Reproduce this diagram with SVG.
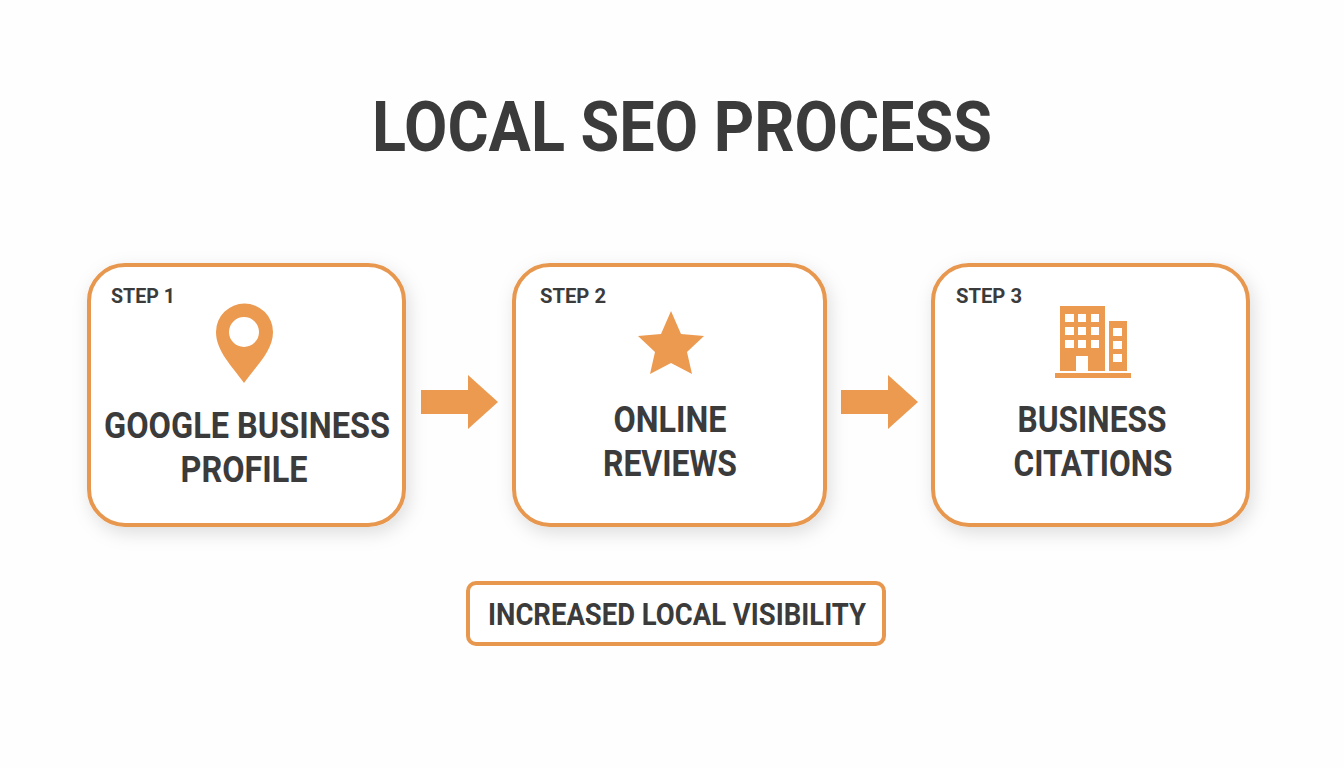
<svg xmlns="http://www.w3.org/2000/svg" width="1344" height="768" viewBox="0 0 1344 768">
<style>
text{font-family:Roboto,"Liberation Sans",sans-serif;font-weight:700;fill:#3b3b3b;text-anchor:middle}
.card{fill:#fff;stroke:#e8974f;stroke-width:4;filter:url(#sh)}
.o{fill:#ec9a50}
.w{fill:#fff}
.step{font-size:21px;text-anchor:start}
.lab{font-size:37px}
</style>
<defs><filter id="sh" x="-15%" y="-15%" width="130%" height="130%"><feDropShadow dx="3" dy="6" stdDeviation="9" flood-color="#000" flood-opacity=".13"/></filter></defs>
<rect width="1344" height="768" fill="#fefefe"/>
<text x="682" y="151" font-size="71" textLength="620" lengthAdjust="spacingAndGlyphs">LOCAL SEO PROCESS</text>
<g id="connectors">
<path class="o" d="M421 390H468V375L498 402L468 429V414H421Z"/>
<path class="o" d="M841 390H888V375L918 402L888 429V414H841Z"/>
</g>
<g id="step1">
<rect class="card" x="89" y="265" width="315" height="260" rx="36"/>
<text class="step" x="111" y="303" textLength="64" lengthAdjust="spacingAndGlyphs">STEP 1</text>
<path class="o" fill-rule="evenodd" d="M244 383C232 366 216 351 216 332A28 28 0 0 1 273 332C273 351 256 366 244 383ZM244 317A15 15 0 1 0 244 347A15 15 0 1 0 244 317Z"/>
<text class="lab" x="247" y="438" textLength="286" lengthAdjust="spacingAndGlyphs">GOOGLE BUSINESS</text>
<text class="lab" x="244" y="482" textLength="127" lengthAdjust="spacingAndGlyphs">PROFILE</text>
</g>
<g id="step2">
<rect class="card" x="514" y="265" width="311" height="260" rx="36"/>
<text class="step" x="540" y="303" textLength="66" lengthAdjust="spacingAndGlyphs">STEP 2</text>
<path class="o" d="M671 311L681 334L704 336L687 352L692 374L671 363L650 374L655 352L638 336L661 334Z"/>
<text class="lab" x="670" y="432" textLength="113" lengthAdjust="spacingAndGlyphs">ONLINE</text>
<text class="lab" x="670" y="476" textLength="134" lengthAdjust="spacingAndGlyphs">REVIEWS</text>
</g>
<g id="step3">
<rect class="card" x="933" y="265" width="315" height="260" rx="36"/>
<text class="step" x="956" y="303" textLength="66" lengthAdjust="spacingAndGlyphs">STEP 3</text>
<path class="o" d="M1060 306H1105V371H1060ZM1109 321H1127V371H1109ZM1055 373H1131V378H1055Z"/>
<g class="w">
<rect x="1065" y="314" width="9" height="8"/><rect x="1078" y="314" width="8" height="8"/><rect x="1091" y="314" width="8" height="8"/>
<rect x="1065" y="327" width="9" height="8"/><rect x="1078" y="327" width="8" height="8"/><rect x="1091" y="327" width="8" height="8"/>
<rect x="1065" y="340" width="9" height="8"/><rect x="1078" y="340" width="8" height="8"/><rect x="1091" y="340" width="8" height="8"/>
<rect x="1113" y="328" width="9" height="8"/><rect x="1113" y="341" width="9" height="8"/><rect x="1113" y="354" width="9" height="8"/>
<rect x="1076" y="356" width="12" height="15"/>
</g>
<text class="lab" x="1092" y="432" textLength="149" lengthAdjust="spacingAndGlyphs">BUSINESS</text>
<text class="lab" x="1093" y="476" textLength="159" lengthAdjust="spacingAndGlyphs">CITATIONS</text>
</g>
<g id="result">
<rect x="468" y="583" width="416" height="61" rx="8" fill="#fff" stroke="#e8974f" stroke-width="4"/>
<text x="677" y="625" font-size="31" textLength="378" lengthAdjust="spacingAndGlyphs">INCREASED LOCAL VISIBILITY</text>
</g>
</svg>
